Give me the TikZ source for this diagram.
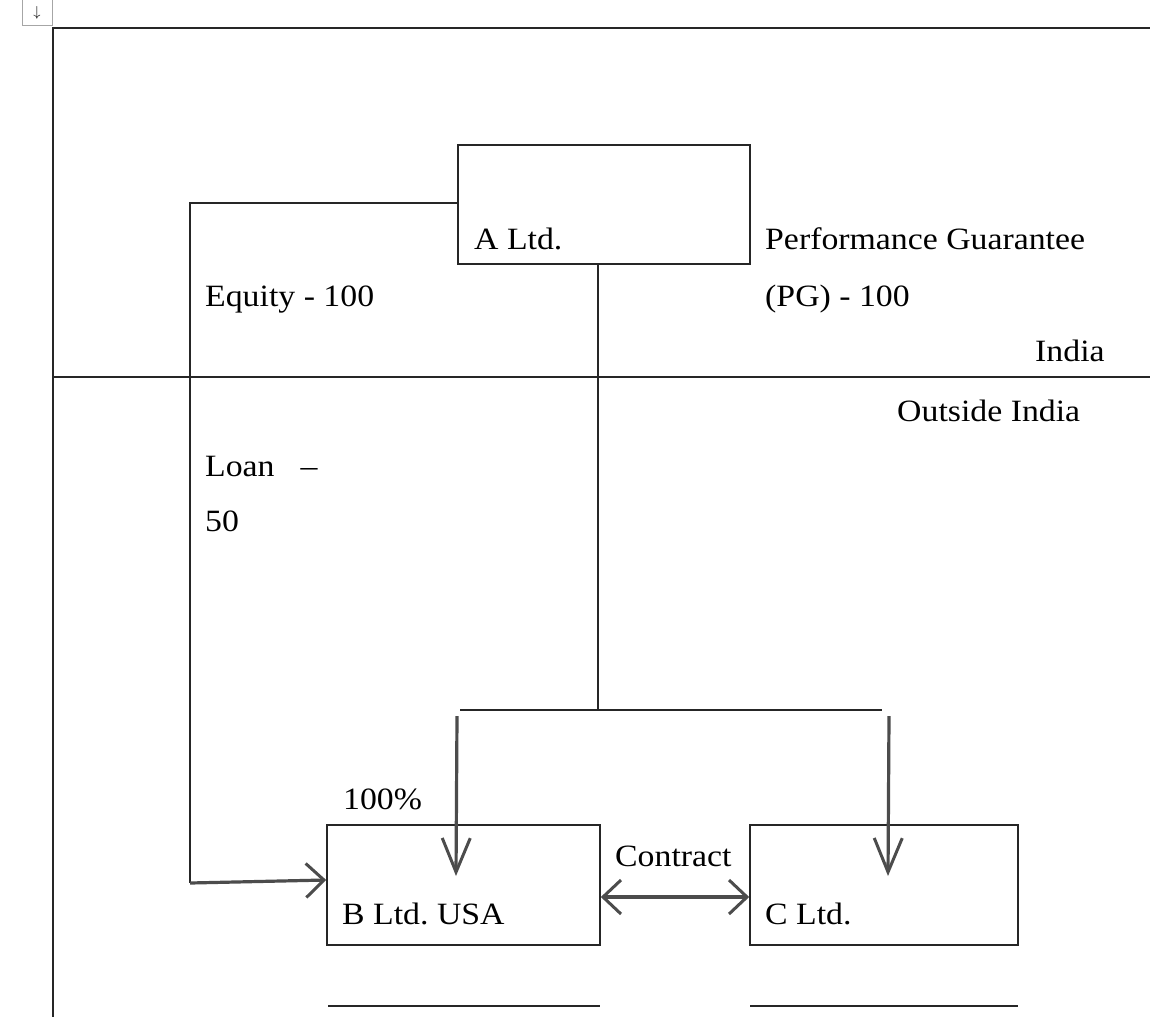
\documentclass[tikz,border=0pt]{standalone}
\usepackage{fontspec}
\setmainfont[FakeStretch=1.09]{Liberation Serif}
\usetikzlibrary{arrows.meta}
\begin{document}
\frenchspacing
\begin{tikzpicture}[x=1pt,y=-1pt,
  ln/.style={line width=1.6pt,black!85},
  vtip/.tip={Straight Barb[length=34pt,width=28pt,line width=3pt]},
  htip/.tip={Straight Barb[length=18pt,width=34pt,line width=3pt]},
  varr/.style={line width=3.2pt,black!70,-vtip},
  harr/.style={line width=3.2pt,black!70,-htip},
  darr/.style={line width=3.2pt,black!70,htip-htip},
  box/.style={draw,line width=1.6pt,black!85,minimum width=#1,minimum height=120pt,inner sep=0pt},
  lbl/.style={anchor=base west,inner sep=0pt,font=\fontsize{31}{34}\selectfont}]
\useasboundingbox (0,0) rectangle (1150,1017);
\fill[white] (0,0) rectangle (1150,1017);
% table handle
\draw[black!35,line width=0.8pt] (22,25) -- (22,0) (52,0) -- (52,25) -- (22,25);
\node[inner sep=0pt] (h) at (37,13) {\fontsize{14}{14}\selectfont$\downarrow$};
% frame
\coordinate (ftl) at (53,28);
\coordinate (ftr) at (1150,28);
\coordinate (fbl) at (53,1017);
\draw[ln] (ftr) -- (ftl) -- (fbl);
\coordinate (il) at (53,377);
\coordinate (ir) at (1150,377);
\draw[ln] (il) -- (ir);
% boxes
\node[box=292pt,minimum height=119pt] (A) at (604,204.5) {};
\node[box=273pt] (B) at (463.5,885) {};
\node[box=268pt] (C) at (884,885) {};
\node[lbl] (Al) at (474,249) {A Ltd.};
\node[lbl] (Bl) at (342,924) {B Ltd. USA};
\node[lbl] (Cl) at (765,924) {C Ltd.};
% equity / loan line
\coordinate (e1) at (190,203);
\coordinate (e2) at (190,883);
\draw[ln] (A.west |- e1) -- (e1) -- (e2);
\draw[harr] (e2) -- (B.west |- 0,880);
% vertical from A
\coordinate (v2) at (598,710);
\draw[ln] (A.south -| v2) -- (v2);
\coordinate (hl) at (460,710);
\coordinate (hr) at (882,710);
\draw[ln] (hl) -- (hr);
\coordinate (a1) at (457,716);
\coordinate (a2) at (889,716);
\draw[varr] (a1) -- (456,876);
\draw[varr] (a2) -- (888,876);
\draw[darr] (B.east |- 0,897) -- (C.west |- 0,897);
% underlines
\coordinate (u1) at (328,1006);
\coordinate (u2) at (600,1006);
\coordinate (u3) at (750,1006);
\coordinate (u4) at (1018,1006);
\draw[ln] (u1) -- (u2);
\draw[ln] (u3) -- (u4);
% labels
\node[lbl] (eq) at (205,306) {Equity - 100};
\node[lbl] (pg1) at (765,249) {Performance Guarantee};
\node[lbl] (pg2) at (765,306) {(PG) - 100};
\node[lbl] (in) at (1035,361) {India};
\node[lbl] (oi) at (897,421) {Outside India};
\node[lbl] (ln1) at (205,476) {Loan\hspace{26pt}--};
\node[lbl] (ln2) at (205,531) {50};
\node[lbl] (pc) at (343,809) {100\%};
\node[lbl] (ct) at (615,866) {Contract};
\end{tikzpicture}
\end{document}
